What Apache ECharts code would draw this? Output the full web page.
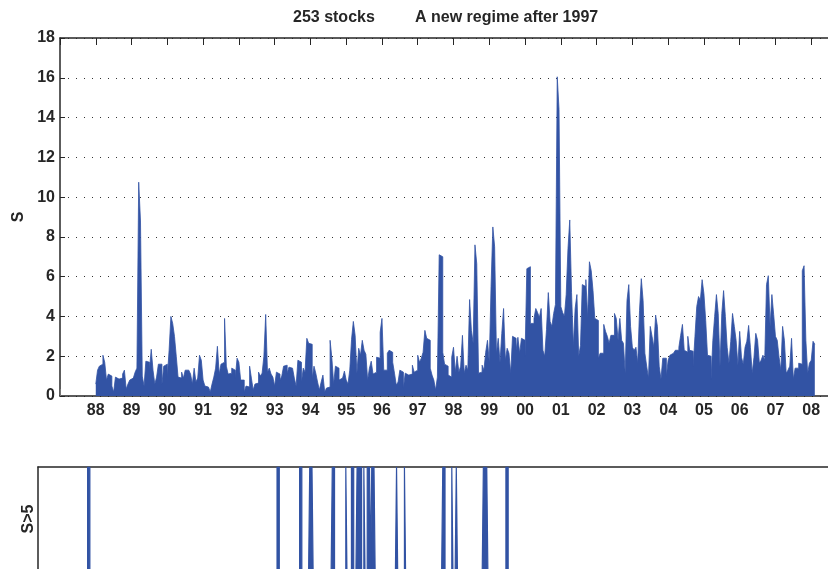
<!DOCTYPE html>
<html>
<head>
<meta charset="utf-8">
<title>253 stocks - S</title>
<script src="https://cdn.jsdelivr.net/npm/echarts/dist/echarts.min.js"></script>
<style>
  html, body { margin: 0; padding: 0; background: #fff; overflow: hidden; width: 828px; height: 569px; }
  /* the axes run past the right edge of the picture, as in the original figure */
  #chart { width: 1000px; height: 600px; }
</style>
</head>
<body>
<div id="chart"></div>
<script>
// S values, 20 samples per year (1/20 year apart)
const years = [1988, 1989, 1990, 1991, 1992, 1993, 1994, 1995, 1996, 1997,
  1998, 1999, 2000, 2001, 2002, 2003, 2004, 2005, 2006, 2007, 2008];
const s1988 = [0.6, 1.3, 1.5, 1.6, 2.05, 1.7, 0.8, 1.1, 1.0, 0.5, 0.2, 0.95, 0.85, 0.8, 0.9, 1.1, 1.3, 0.35, 0.6, 0.8];
const s1989 = [0.9, 0.9, 1.2, 1.4, 10.75, 8.8, 1.0, 0.5, 1.75, 1.7, 1.3, 2.35, 1.3, 0.6, 0.95, 1.6, 1.6, 0.6, 1.5, 1.6];
const s1990 = [0.95, 2.3, 4.0, 3.65, 3.0, 2.0, 0.95, 0.9, 1.2, 0.9, 1.3, 1.3, 1.2, 1.1, 0.6, 1.4, 0.7, 0.9, 2.05, 1.8];
const s1991 = [0.8, 0.5, 0.45, 0.35, 0.2, 0.6, 0.95, 1.4, 2.5, 1.1, 1.6, 1.7, 3.9, 1.5, 1.1, 1.15, 1.4, 1.3, 0.9, 1.9];
const s1992 = [1.7, 0.8, 0.8, 0.2, 0.5, 0.45, 1.5, 0.9, 0.3, 0.6, 0.65, 1.2, 1.0, 1.15, 2.0, 4.1, 1.2, 1.4, 1.1, 0.95];
const s1993 = [0.5, 1.2, 1.1, 0.8, 1.0, 1.5, 1.55, 1.15, 1.45, 1.4, 1.3, 0.9, 0.5, 1.8, 1.7, 0.7, 1.4, 1.2, 2.9, 2.65];
const s1994 = [2.6, 0.9, 1.5, 1.15, 0.7, 0.3, 0.7, 1.05, 0.2, 0.4, 0.45, 2.8, 1.9, 0.6, 1.5, 1.4, 0.8, 0.9, 1.0, 1.25];
const s1995 = [0.8, 0.6, 1.3, 2.85, 3.75, 3.05, 1.15, 2.4, 2.05, 2.8, 2.3, 2.1, 0.8, 1.4, 1.75, 1.1, 1.2, 1.95, 1.9, 3.2];
const s1996 = [3.9, 1.3, 1.3, 2.15, 2.3, 2.2, 1.7, 1.15, 0.55, 0.7, 1.3, 1.2, 0.4, 1.15, 1.05, 1.05, 1.1, 1.55, 1.2, 1.3];
const s1997 = [2.05, 1.7, 1.9, 2.2, 3.3, 2.9, 2.8, 1.4, 1.05, 0.8, 0.3, 0.95, 7.1, 7.0, 2.2, 1.6, 1.5, 1.05, 0.95, 1.95];
const s1998 = [2.45, 1.2, 2.0, 1.2, 1.5, 3.05, 1.15, 1.55, 1.3, 4.85, 3.3, 2.65, 7.6, 6.65, 1.15, 1.2, 1.55, 1.3, 2.2, 2.8];
const s1999 = [1.7, 5.5, 8.5, 7.5, 2.15, 2.9, 1.7, 3.15, 4.4, 1.8, 2.4, 2.15, 1.15, 3.0, 2.9, 2.3, 2.95, 2.15, 2.9, 2.8];
const s2000 = [2.0, 6.4, 6.5, 3.65, 3.65, 3.9, 4.4, 4.2, 3.95, 4.4, 2.3, 2.0, 3.35, 5.2, 3.75, 3.5, 4.15, 4.6, 16.05, 14.4];
const s2001 = [4.5, 4.2, 4.0, 5.1, 7.4, 8.85, 5.2, 2.5, 4.4, 5.1, 2.0, 2.55, 5.6, 5.5, 5.85, 3.95, 6.75, 6.3, 5.3, 3.9];
const s2002 = [3.8, 1.9, 2.15, 2.15, 3.6, 3.25, 3.0, 2.65, 3.05, 3.05, 4.15, 3.9, 2.8, 3.9, 2.8, 2.65, 1.15, 4.8, 5.6, 3.5];
const s2003 = [2.45, 2.3, 2.45, 1.65, 4.3, 5.9, 4.8, 2.15, 1.5, 0.9, 3.5, 3.0, 2.45, 4.07, 3.5, 1.5, 0.85, 1.9, 1.9, 1.0];
const s2004 = [1.8, 2.05, 2.15, 2.25, 2.3, 2.3, 2.45, 3.05, 3.6, 2.3, 2.2, 3.0, 2.3, 2.25, 1.5, 3.0, 4.5, 5.0, 4.8, 5.85];
const s2005 = [5.15, 3.8, 2.05, 2.0, 0.85, 2.8, 4.0, 5.1, 4.15, 1.5, 4.15, 5.3, 4.0, 2.45, 1.65, 2.75, 4.15, 3.5, 2.8, 1.55];
const s2006 = [3.25, 1.95, 1.6, 2.45, 2.75, 3.55, 2.45, 1.15, 1.95, 3.15, 2.8, 1.65, 1.8, 2.05, 1.8, 5.6, 6.05, 3.5, 5.1, 4.1];
const s2007 = [3.0, 2.8, 1.95, 1.3, 3.5, 2.8, 1.15, 1.3, 1.5, 2.9, 0.85, 1.4, 1.4, 1.65, 1.6, 6.3, 6.55, 2.8, 1.15, 1.65];
const s2008 = [1.8, 2.75, 2.6];
const samplesPerYear = 20;
const threshold = 5;

const sByYear = [s1988, s1989, s1990, s1991, s1992, s1993, s1994, s1995, s1996, s1997,
  s1998, s1999, s2000, s2001, s2002, s2003, s2004, s2005, s2006, s2007, s2008];

const sData = [];
years.forEach((y, k) => {
  sByYear[k].forEach((v, i) => sData.push([y + i / samplesPerYear, v]));
});
const flagData = sData.map(d => [d[0], d[1] > threshold ? 1 : 0]);

const blue = '#3253a4';
const ink = '#262626';
const font = 'Liberation Sans, Arial, Helvetica, sans-serif';

const chart = echarts.init(document.getElementById('chart'), null, { renderer: 'canvas' });
const option = {
  animation: false,
  backgroundColor: '#fff',
  title: [
    {
      text: '253 stocks', left: 293, top: 10, padding: 0,
      textStyle: { fontFamily: font, fontSize: 16, fontWeight: 'bold', color: ink }
    },
    {
      text: 'A new regime after 1997', left: 415, top: 10, padding: 0,
      textStyle: { fontFamily: font, fontSize: 16, fontWeight: 'bold', color: ink }
    }
  ],
  grid: [
    { left: 60, top: 38, width: 787, height: 358 },
    { left: 38, top: 467, width: 902, height: 104 }
  ],
  xAxis: [
    {
      gridIndex: 0, type: 'value', min: 1987, max: 2009, interval: 1, position: 'bottom',
      axisLine: { show: true, onZero: false, lineStyle: { color: ink, width: 1.5 } },
      axisTick: { show: true, inside: true, length: 7, lineStyle: { color: '#777' } },
      axisLabel: {
        fontFamily: font, fontSize: 16, fontWeight: 'bold', color: ink, margin: 7,
        formatter: v => (v >= 1988 && v <= 2008) ? String(v % 100).padStart(2, '0') : ''
      },
      splitLine: { show: false }
    },
    {
      gridIndex: 0, type: 'value', min: 1987, max: 2009, interval: 1, position: 'top',
      axisLine: { show: true, onZero: false, lineStyle: { color: ink, width: 1.5 } },
      axisTick: { show: true, inside: true, length: 7, lineStyle: { color: ink } },
      axisLabel: { show: false },
      splitLine: { show: false }
    },
    {
      gridIndex: 1, type: 'value', min: 1987, max: 2027, position: 'top',
      axisLine: { show: true, onZero: false, lineStyle: { color: ink, width: 1.5 } },
      axisTick: { show: false },
      axisLabel: { show: false },
      splitLine: { show: false }
    }
  ],
  yAxis: [
    {
      gridIndex: 0, type: 'value', min: 0, max: 18, interval: 2,
      name: 'S', nameLocation: 'middle', nameGap: 32,
      nameTextStyle: { fontFamily: font, fontSize: 16, fontWeight: 'bold', color: ink },
      axisLine: { show: true, lineStyle: { color: ink, width: 1.5 } },
      axisTick: { show: true, inside: true, length: 5, lineStyle: { color: ink } },
      axisLabel: { fontFamily: font, fontSize: 16, fontWeight: 'bold', color: ink, margin: 5 },
      splitLine: { show: true, lineStyle: { color: '#333', width: 1, type: [1, 7] } }
    },
    {
      gridIndex: 1, type: 'value', min: 0, max: 1,
      name: 'S>5', nameLocation: 'middle', nameGap: 1,
      nameTextStyle: { fontFamily: font, fontSize: 16, fontWeight: 'bold', color: ink },
      axisLine: { show: true, lineStyle: { color: ink, width: 1.5 } },
      axisTick: { show: false },
      axisLabel: { show: false },
      splitLine: { show: false }
    }
  ],
  series: [
    {
      name: 'S', type: 'line', xAxisIndex: 0, yAxisIndex: 0,
      data: sData, step: 'end', showSymbol: false, symbol: 'none', sampling: false,
      lineStyle: { color: blue, width: 0.8 },
      areaStyle: { color: blue, opacity: 1 },
      z: 3
    },
    {
      name: 'S>5', type: 'line', xAxisIndex: 2, yAxisIndex: 1,
      data: flagData, step: 'end', showSymbol: false, symbol: 'none',
      lineStyle: { color: blue, width: 1.2 },
      areaStyle: { color: blue, opacity: 1 },
      z: 1
    }
  ]
};
chart.setOption(option);
</script>
</body>
</html>
